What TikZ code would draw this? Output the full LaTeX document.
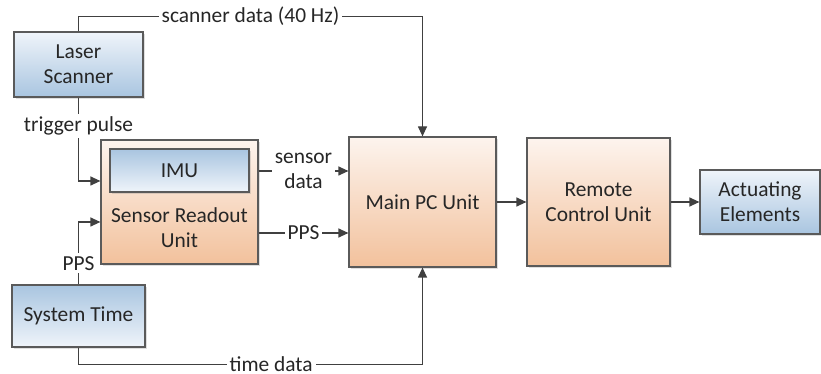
\documentclass[tikz,border=0pt]{standalone}
\usepackage{fontspec}
\setmainfont{Carlito}
\usetikzlibrary{arrows.meta,shadows}
\definecolor{ln}{HTML}{404040}
\definecolor{bx}{HTML}{5A5A5A}
\definecolor{txt}{HTML}{262626}
\definecolor{orlight}{HTML}{FDF4EE}
\definecolor{ordark}{HTML}{F2C19C}
\definecolor{bllight}{HTML}{EFF4FA}
\definecolor{bldark}{HTML}{A9C5E0}
\begin{document}
\begin{tikzpicture}[x=0.5pt,y=-0.5pt,
    font=\fontsize{10.7}{12.5}\selectfont, text=txt,
    blk/.style={draw=bx, line width=0.6pt, align=center, inner sep=0pt,
      drop shadow={shadow xshift=1pt, shadow yshift=-1pt, opacity=0.25}},
    org/.style={blk, top color=orlight, bottom color=ordark},
    bldn/.style={blk, top color=bllight, bottom color=bldark},
    blup/.style={blk, top color=bldark, bottom color=bllight},
    arr/.style={draw=ln, line width=0.6pt, -{Triangle[length=5pt,width=4.5pt]}},
    lbl/.style={fill=white, inner sep=1.5pt}]
  \useasboundingbox (0,0) rectangle (821,374);
  \node[bldn, minimum width=64.5pt, minimum height=32.5pt] (laser) at (78.5,64.5) {Laser\\Scanner};
  \node[org, minimum width=78.5pt, minimum height=62pt] (sru) at (179.5,202) {};
  \node[blup, minimum width=69.5pt, minimum height=21.5pt] (imu) at (179.5,170.5) {IMU};
  \node[align=center] (srutext) at (179.5,228) {Sensor Readout\\Unit};
  \node[blup, minimum width=66.5pt, minimum height=31pt] (systime) at (78.5,316) {System Time};
  \node[org, minimum width=73.5pt, minimum height=65pt] (mpc) at (422.5,202) {Main PC Unit};
  \node[org, minimum width=71.5pt, minimum height=64pt] (rcu) at (598.5,202) {Remote\\Control Unit};
  \node[bldn, minimum width=60pt, minimum height=32pt] (act) at (760,202) {Actuating\\Elements};

  \draw[arr] (laser.north) -- ++(0,-15) -| node[lbl, pos=0.25] {scanner data (40 Hz)} (mpc.north);
  \draw[arr] (laser.south) |- node[lbl, pos=0.17] {trigger pulse} ([yshift=10.5pt]sru.west);
  \draw[arr] (systime.north) |- node[lbl, pos=0.17] {PPS} ([yshift=-10pt]sru.west);
  \draw[arr] ([yshift=15.5pt]sru.east) -- node[lbl, align=center] {sensor\\data} ([yshift=15.5pt]mpc.west);
  \draw[arr] ([yshift=-15.5pt]sru.east) -- node[lbl] {PPS} ([yshift=-15.5pt]mpc.west);
  \draw[arr] (systime.south) -- ++(0,17) -| node[lbl, inner ysep=0pt, pos=0.28] {time data} (mpc.south);
  \draw[arr] (mpc.east) -- (rcu.west);
  \draw[arr] (rcu.east) -- (act.west);
\end{tikzpicture}
\end{document}
